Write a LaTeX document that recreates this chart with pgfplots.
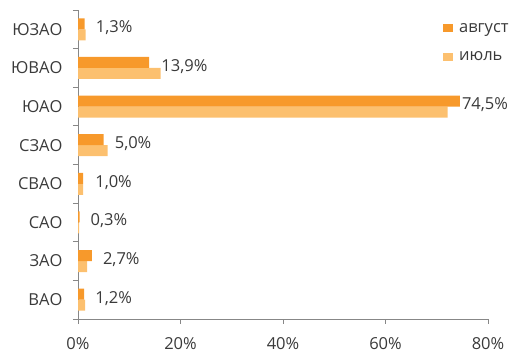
\documentclass[border=0pt]{standalone}
\usepackage{pgfplots}
\pgfplotsset{compat=1.18}
\usepackage{pgfplotstable}
\usepackage{fontspec}
\setmainfont{Open Sans}
\definecolor{aug}{HTML}{F7992B}
\definecolor{jul}{HTML}{FCC06F}
\definecolor{axgray}{HTML}{878787}
\definecolor{txt}{HTML}{3A3A3A}
\newcommand{\fs}{\fontsize{16.5}{19}\selectfont}

\pgfplotstableread{
y aug jul dx
0 1.2 1.4 11
1 2.7 1.8 11
2 0.3 0.2 11
3 1.0 1.0 12
4 5.0 5.8 11
5 74.5 72.1 2
6 13.9 16.1 12
7 1.3 1.5 11
}\data

\begin{document}
\begin{tikzpicture}
\path (0pt,0pt) rectangle (517pt,358pt);
\begin{axis}[
  at={(78pt,39pt)}, anchor=south west,
  scale only axis, width=410pt, height=309pt,
  xbar, bar width=11pt,
  xmin=0, xmax=80, ymin=-0.5, ymax=7.5,
  axis x line*=bottom, axis y line*=left,
  axis line style={axgray, line width=0.8pt, -},
  xtick={0,20,40,60,80}, xticklabels={0\%,20\%,40\%,60\%,80\%},
  ytick={0,...,7}, yticklabels={ВАО,ЗАО,САО,СВАО,СЗАО,ЮАО,ЮВАО,ЮЗАО},
  major y tick style={draw=none},
  minor ytick={-0.5,0.5,...,7.5},
  tick align=outside, major tick length=5pt, minor tick length=5pt,
  every tick/.style={axgray, line width=0.8pt},
  minor tick style={axgray, line width=0.8pt},
  tick label style={font=\fs, text=txt},
  xticklabel style={yshift=-10.5pt},
  yticklabel style={xshift=-7pt},
  /pgf/number format/assume math mode=true,
  legend style={at={(0.89,0.965)}, anchor=north west, draw=none, fill=none,
    font=\fs, text=txt, row sep=14pt, inner sep=0pt, cells={anchor=west}},
  clip=false,
]
\addplot[draw=none, fill=jul, bar shift=-5.5pt, forget plot] table[x=jul, y=y] {\data};
\addplot[draw=none, fill=aug, bar shift=5.5pt, forget plot,
  point meta=x,
  visualization depends on={\thisrow{dx} \as \dx},
  nodes near coords={\pgfmathprintnumber[fixed, fixed zerofill, precision=1, use comma, assume math mode=true]{\pgfplotspointmeta}\%},
  every node near coord/.append style={anchor=west, inner sep=0pt, xshift=\dx pt, yshift=-4pt, font=\fs, text=txt}
  ] table[x=aug, y=y] {\data};
\addlegendimage{legend image code/.code={\fill[aug, draw=none] (0pt,-4pt) rectangle (10pt,4pt); \path[draw=none, fill=none] (0pt,0pt) rectangle (14pt,0.1pt);}}
\addlegendentry{август}
\addlegendimage{legend image code/.code={\fill[jul, draw=none] (0pt,-4pt) rectangle (10pt,4pt); \path[draw=none, fill=none] (0pt,0pt) rectangle (14pt,0.1pt);}}
\addlegendentry{июль}
\end{axis}
\end{tikzpicture}
\end{document}
